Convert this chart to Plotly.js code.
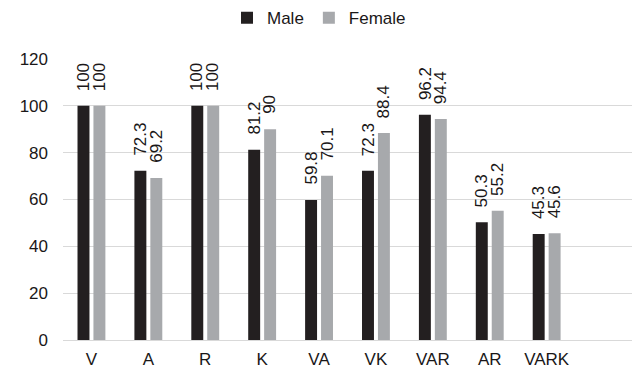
<!DOCTYPE html>
<html>
<head>
<meta charset="utf-8">
<script src="https://cdn.plot.ly/plotly-3.0.1.min.js"></script>
<style>html,body{margin:0;padding:0;background:#fff;}#chart{width:638px;height:371px;}</style>
</head>
<body>
<div id="chart"></div>
<script>
const categories = ['V', 'A', 'R', 'K', 'VA', 'VK', 'VAR', 'AR', 'VARK'];
const male = [100, 72.3, 100, 81.2, 59.8, 72.3, 96.2, 50.3, 45.3];
const female = [100, 69.2, 100, 90, 70.1, 88.4, 94.4, 55.2, 45.6];
const yTicks = [0, 20, 40, 60, 80, 100, 120];

const FONT = 'Liberation Sans, Arial, sans-serif';
const TXT = '#1a1718';
const OFF = 0.14;

const traces = [
  {type: 'bar', name: 'Male', x: categories, y: male, marker: {color: '#231f20'}, hoverinfo: 'none'},
  {type: 'bar', name: 'Female', x: categories, y: female, marker: {color: '#a7a9ac'}, hoverinfo: 'none'}
];

const annotations = [];
categories.forEach((c, i) => {
  [[male, -OFF], [female, OFF]].forEach(([arr, off]) => {
    annotations.push({
      x: i + off, y: arr[i], xref: 'x', yref: 'y',
      text: String(arr[i]), showarrow: false, textangle: -90,
      xanchor: 'center', yanchor: 'bottom', yshift: 13,
      font: {family: FONT, size: 17, color: TXT}
    });
  });
});

const layout = {
  width: 638, height: 371,
  margin: {l: 63, r: 6, t: 59, b: 31, autoexpand: false},
  paper_bgcolor: '#fff', plot_bgcolor: '#fff',
  font: {family: FONT, size: 17, color: TXT},
  barmode: 'group', bargap: 0.44, bargroupgap: 0.25,
  showlegend: true,
  legend: {orientation: 'h', xref: 'container', yref: 'container', x: 0.5, xanchor: 'center', y: 0.951, yanchor: 'middle', itemwidth: 30,
           font: {family: FONT, size: 17, color: TXT}, traceorder: 'normal'},
  xaxis: {type: 'category', range: [-0.5, 9.5], showgrid: false, showline: false, zeroline: false,
          ticks: '', ticklabelstandoff: 7, tickfont: {family: FONT, size: 17, color: TXT}, fixedrange: true},
  yaxis: {range: [0, 120], tickvals: yTicks, ticktext: yTicks.map(String), showgrid: true, gridcolor: '#d9d9d9', gridwidth: 1,
          zeroline: true, zerolinecolor: '#d9d9d9', zerolinewidth: 1, showline: false, ticks: '',
          ticklabelstandoff: 14, tickfont: {family: FONT, size: 17, color: TXT}, fixedrange: true},
  annotations: annotations
};

Plotly.newPlot('chart', traces, layout, {displayModeBar: false, staticPlot: true});
</script>
</body>
</html>
